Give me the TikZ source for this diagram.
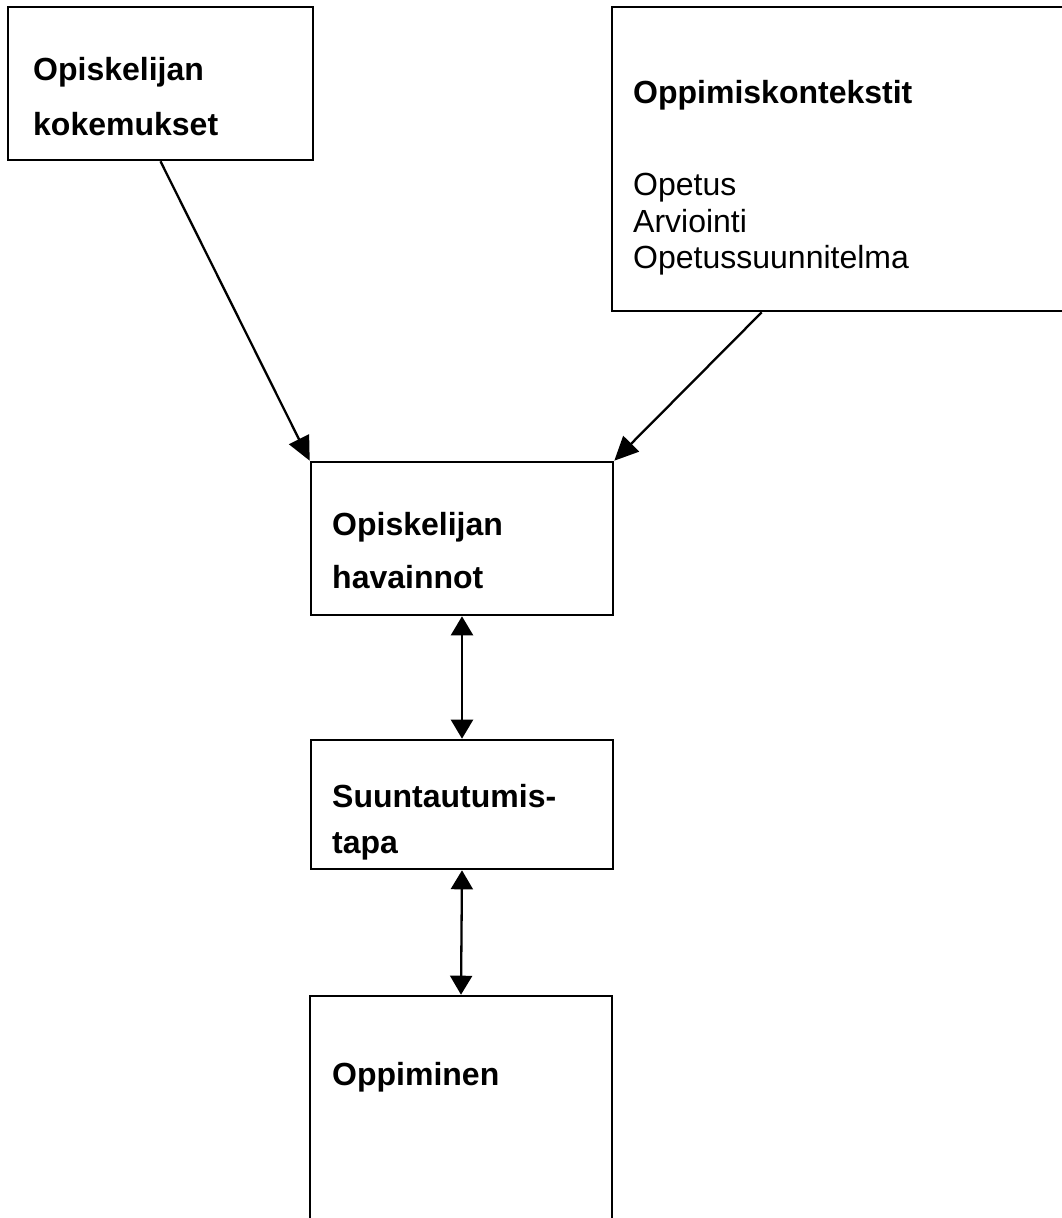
\documentclass[tikz,border=0pt]{standalone}
\usepackage{fontspec}
\setmainfont{Liberation Sans}
\usetikzlibrary{arrows.meta,fit}
\tikzset{
  box/.style={draw=black, line width=2.6pt, inner sep=0pt, fill=none},
  lbl/.style={anchor=base west, inner sep=0pt, font=\fontsize{32}{38}\selectfont\bfseries},
  lblr/.style={anchor=base west, inner sep=0pt, font=\fontsize{32}{38}\selectfont},
  arr/.style={line width=2.3pt, -{Triangle[length=24pt,width=22pt]}},
  darr/.style={line width=2.3pt, {Triangle[length=19pt,width=22pt]}-{Triangle[length=19pt,width=22pt]}}
}
\begin{document}
\begin{tikzpicture}[x=1pt,y=-1pt]
\useasboundingbox[fill=white] (0,0) rectangle (1061,1218);
% boxes
\node[box, fit={(8,7) (313,160)}] (b1) {};
\node[box, fit={(612,7) (1075,311)}] (b2) {};
\node[box, fit={(311,462) (613,615)}] (b3) {};
\node[box, fit={(311,740) (613,869)}] (b4) {};
\node[box, fit={(310,996) (612,1230)}] (b5) {};
% texts
\node[lbl] (t1a) at (33,80) {Opiskelijan};
\node[lbl] (t1b) at (33,135) {kokemukset};
\node[lbl] (t2a) at (633,103) {Oppimiskontekstit};
\node[lblr] (t2b) at (633,195) {Opetus};
\node[lblr] (t2c) at (633,232) {Arviointi};
\node[lblr] (t2d) at (633,268) {Opetussuunnitelma};
\node[lbl] (t3a) at (332,535) {Opiskelijan};
\node[lbl] (t3b) at (332,588) {havainnot};
\node[lbl] (t4a) at (332,807) {Suuntautumis-};
\node[lbl] (t4b) at (332,853) {tapa};
\node[lbl] (t5) at (332,1085) {Oppiminen};
% connectors
\coordinate (s2) at ([xshift=151pt]b2.south west);
\draw[arr] (b1.south) -- (b3.north west);
\draw[arr] (s2) -- (b3.north east);
\draw[darr] (b3.south) -- (b4.north);
\draw[darr] (b4.south) -- (b5.north);
\end{tikzpicture}
\end{document}
